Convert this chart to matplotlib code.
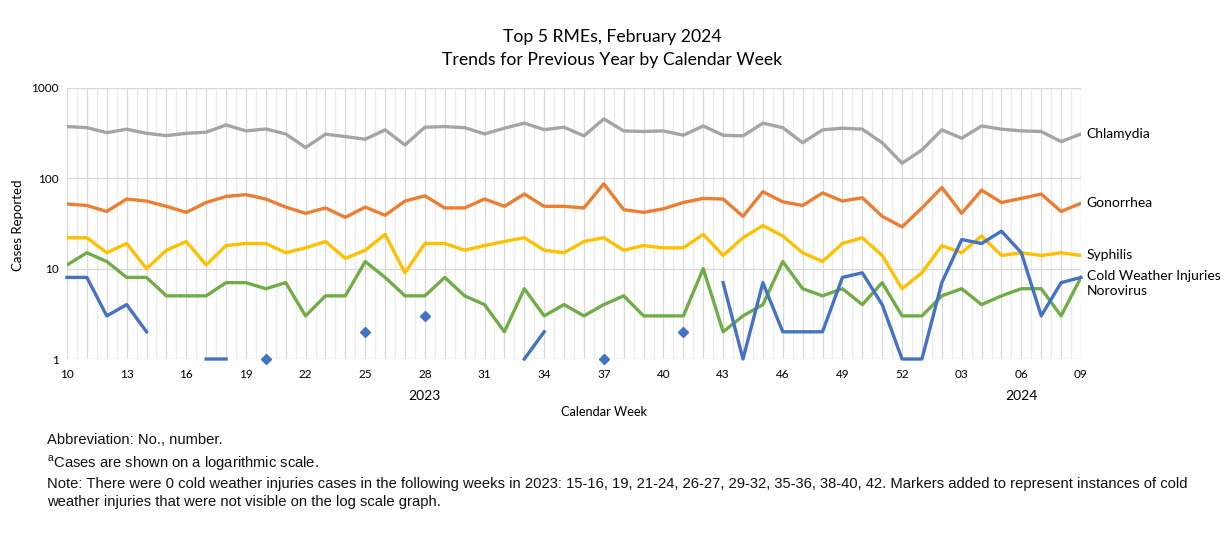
import numpy as np
import matplotlib
matplotlib.use("Agg")
import matplotlib.pyplot as plt
from matplotlib.ticker import FixedLocator, NullFormatter

weeks = ["10", "11", "12", "13", "14", "15", "16", "17", "18", "19", "20", "21", "22", "23",
         "24", "25", "26", "27", "28", "29", "30", "31", "32", "33", "34", "35", "36", "37",
         "38", "39", "40", "41", "42", "43", "44", "45", "46", "47", "48", "49", "50", "51",
         "52", "01", "02", "03", "04", "05", "06", "07", "08", "09"]

chlamydia = [374, 364, 320, 350, 315, 297, 315, 324, 390, 335, 352, 310, 219, 308, 290, 271,
             344, 234, 368, 374, 364, 310, 359, 408, 346, 368, 295, 455, 335, 330, 335, 300,
             380, 300, 295, 408, 364, 248, 344, 359, 350, 248, 147, 206, 344, 278, 380, 350,
             335, 330, 255, 310]
gonorrhea = [52, 50, 43, 59, 56, 49, 42, 54, 63, 66, 59, 48, 41, 47, 37, 48, 39, 56, 64, 47,
             47, 59, 49, 67, 49, 49, 47, 87, 45, 42, 46, 54, 60, 59, 38, 71, 55, 50, 69, 56,
             61, 38, 29, 47, 79, 41, 74, 54, 60, 67, 43, 53]
syphilis = [22, 22, 15, 19, 10, 16, 20, 11, 18, 19, 19, 15, 17, 20, 13, 16, 24, 9, 19, 19,
            16, 18, 20, 22, 16, 15, 20, 22, 16, 18, 17, 17, 24, 14, 22, 30, 23, 15, 12, 19,
            22, 14, 6, 9, 18, 15, 23, 14, 15, 14, 15, 14]
cold = [8, 8, 3, 4, 2, 0, 0, 1, 1, 0, 1, 0, 0, 0, 0, 2, 0, 0, 3, 0, 0, 0, 0, 1, 2, 0, 0, 1,
        0, 0, 0, 2, 0, 7, 1, 7, 2, 2, 2, 8, 9, 4, 1, 1, 7, 21, 19, 26, 15, 3, 7, 8]
norovirus = [11, 15, 12, 8, 8, 5, 5, 5, 7, 7, 6, 7, 3, 5, 5, 12, 8, 5, 5, 8, 5, 4, 2, 6, 3,
             4, 3, 4, 5, 3, 3, 3, 10, 2, 3, 4, 12, 6, 5, 6, 4, 7, 3, 3, 5, 6, 4, 5, 6, 6, 3, 8]

series_names = ["Chlamydia", "Gonorrhea", "Syphilis", "Cold Weather Injuries", "Norovirus"]
colors = ["#A5A5A5", "#ED7D31", "#FFC000", "#4472C4", "#70AD47"]

x = np.arange(len(weeks))

fig = plt.figure(figsize=(12.25, 5.41), dpi=100)
ax = fig.add_axes([67/1225, 1-359/541, (1081-67)/1225, (359-88)/541])

ax.set_yscale("log")
ax.set_ylim(1, 1000)
ax.set_xlim(0, len(weeks)-1)

# gridlines
for xv in np.arange(0, len(weeks)-1+0.01, 0.5):
    major = float(xv).is_integer()
    ax.axvline(xv, color="#D9D9D9" if major else "#EBEBEB", lw=0.9, zorder=0)
for yv in [1, 10, 100, 1000]:
    ax.axhline(yv, color="#D9D9D9", lw=1.0, zorder=0)

lw = 2.4
ax.plot(x, chlamydia, color=colors[0], lw=lw, zorder=3)
ax.plot(x, gonorrhea, color=colors[1], lw=lw, zorder=3)
ax.plot(x, syphilis, color=colors[2], lw=lw, zorder=3)
ax.plot(x, norovirus, color=colors[4], lw=lw, zorder=4)
cold_arr = np.array(cold, dtype=float)
cold_masked = np.where(cold_arr > 0, cold_arr, np.nan)
ax.plot(x, cold_masked, color=colors[3], lw=lw, zorder=5, clip_on=False)
iso = [i for i in range(len(cold)) if cold[i] > 0
       and (i == 0 or cold[i-1] == 0) and (i == len(cold)-1 or cold[i+1] == 0)]
ax.plot(x[iso], cold_arr[iso], linestyle="none", marker="D", ms=5.5,
        color=colors[3], zorder=6, clip_on=False)

for s in ax.spines.values():
    s.set_visible(False)

ax.yaxis.set_major_locator(FixedLocator([1, 10, 100, 1000]))
ax.set_yticklabels(["1", "10", "100", "1000"])
ax.yaxis.set_minor_formatter(NullFormatter())
ax.tick_params(axis="y", which="both", length=0, pad=6, labelsize=8.5)
ax.set_xticks(x[::3])
ax.set_xticklabels(weeks[::3])
ax.tick_params(axis="x", length=0, pad=7, labelsize=8.5)
for lab in ax.get_xticklabels() + ax.get_yticklabels():
    lab.set_fontfamily("Lato")

# year group labels
trans = ax.get_xaxis_transform()
ax.text(weeks.index("28"), -0.135, "2023", transform=trans, ha="center", va="center",
        fontsize=10, family="Lato")
ax.text(len(weeks) - 1 - 3, -0.135, "2024", transform=trans, ha="center", va="center",
        fontsize=10, family="Lato")

fig.text(604/1225, 1-412/541, "Calendar Week", ha="center", va="center", fontsize=9.2,
         family="Lato")
fig.text(18/1225, 1-225/541, "Cases Reported", ha="center", va="center", rotation=90,
         fontsize=9.5, family="Lato")

fig.text(0.5, 1-37/541, "Top 5 RMEs, February 2024", ha="center", va="center", fontsize=12.7,
         family="Lato")
fig.text(0.5, 1-60/541, "Trends for Previous Year by Calendar Week", ha="center", va="center",
         fontsize=12.7, family="Lato")

# series end labels
last = len(weeks) - 1
end_vals = [chlamydia[-1], gonorrhea[-1], syphilis[-1], cold[-1], norovirus[-1]]
offsets = [0, 0, 0, 1, -10]
for name, val, off in zip(series_names, end_vals, offsets):
    ax.annotate(name, (last, val), xytext=(4, off), textcoords="offset points",
                ha="left", va="center", fontsize=10, family="Lato", annotation_clip=False)

foot = dict(ha="left", va="center", fontsize=10.6, family="Liberation Sans", color="#111111")
fig.text(47/1225, 1-440/541, "Abbreviation: No., number.", **foot)
fig.text(47/1225, 1-463/541, "$^{\\mathregular{a}}$Cases are shown on a logarithmic scale.", **foot)
fig.text(47/1225, 1-484/541, "Note: There were 0 cold weather injuries cases in the following weeks in 2023: "
         "15-16, 19, 21-24, 26-27, 29-32, 35-36, 38-40, 42. Markers added to represent instances of cold",
         **foot)
fig.text(47/1225, 1-502/541, "weather injuries that were not visible on the log scale graph.", **foot)

fig.savefig("out.png", dpi=100)
